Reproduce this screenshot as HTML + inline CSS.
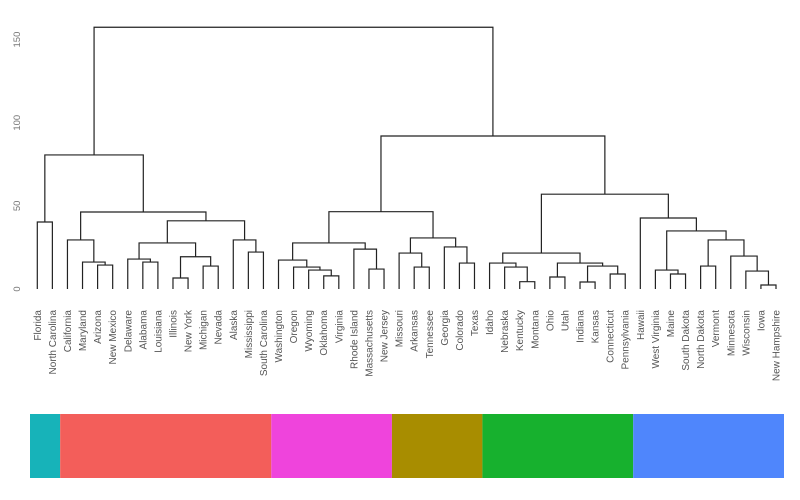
<!DOCTYPE html>
<html><head><meta charset="utf-8"><style>
html,body{margin:0;padding:0;background:#fff;}
svg{display:block;font-family:"Liberation Sans",sans-serif;}
</style></head><body>
<svg id="chart" width="800" height="500" viewBox="0 0 800 500" xmlns="http://www.w3.org/2000/svg">
<g id="axis"></g>
<g id="tree"></g>
<g id="labels"></g>
<g id="bar"></g>
</svg>
<script>
const leaves = ["Florida","North Carolina","California","Maryland","Arizona","New Mexico","Delaware","Alabama","Louisiana","Illinois","New York","Michigan","Nevada","Alaska","Mississippi","South Carolina","Washington","Oregon","Wyoming","Oklahoma","Virginia","Rhode Island","Massachusetts","New Jersey","Missouri","Arkansas","Tennessee","Georgia","Colorado","Texas","Idaho","Nebraska","Kentucky","Montana","Ohio","Utah","Indiana","Kansas","Connecticut","Pennsylvania","Hawaii","West Virginia","Maine","South Dakota","North Dakota","Vermont","Minnesota","Wisconsin","Iowa","New Hampshire"];
// merges: negative = leaf index (1-based), positive = earlier merge (1-based)
const mergeLeft  = [-5,-4,-3,-8,-7,-10,-12,6,5,-15,-14,9,3,-1,14,-20,-19,-18,-17,-23,-22,19,-26,-25,-29,-28,24,22,-33,-32,-31,-35,-37,-39,33,32,31,-43,-42,-45,-49,-48,-47,40,39,-41,37,28,15];
const mergeRight = [-6,1,2,-9,4,-11,-13,7,8,-16,10,11,12,-2,13,-21,16,17,18,-24,20,21,-27,23,-30,25,26,27,-34,29,30,-36,-38,-40,34,35,36,-44,38,-46,-50,41,42,43,44,45,46,47,48];
const mergeHeights = [14.4,16.2,29.5,16.2,18,6.6,13.8,19.4,27.7,22.2,29.5,41,46.3,40.3,80.6,7.9,11.4,13.2,17.4,12,24,27.7,13.2,21.6,15.6,25.3,30.7,46.5,4.4,13.2,15.6,7.2,4.2,9,13.8,15.6,21.6,9,11.4,13.8,2.4,10.8,19.8,29.5,34.9,42.7,57,92,157.4];
const yTicks = [0,50,100,150];
const clusterSizes = [2,14,8,6,10,10];
const clusterColors = ["#17b3b9","#f35e5a","#ef44dc","#a88d00","#17b12e","#4f86fc"];

const NS="http://www.w3.org/2000/svg";
const x0=37.3, dx=(776-37.3)/(leaves.length-1);
const y0=289, ky=1.663;
const xL=i=>x0+i*dx;
const yS=h=>y0-h*ky;
function mk(tag,attrs,parent){const e=document.createElementNS(NS,tag);for(const k in attrs)e.setAttribute(k,attrs[k]);parent.appendChild(e);return e;}

const axis=document.getElementById('axis');
yTicks.forEach(t=>{
  const y=yS(t);
  const tx=mk('text',{x:20,y:y,'text-anchor':'middle','font-size':'9.5',fill:'#777',transform:`rotate(-90,20,${y})`},axis);
  
  
  tx.textContent=t;
});

const tree=document.getElementById('tree');
const mx=[],mh=[];
function childPos(c){ if(c<0) return [xL(-c-1),0]; return [mx[c-1],mh[c-1]]; }
for(let i=0;i<mergeHeights.length;i++){
  const [xa,ha]=childPos(mergeLeft[i]);
  const [xb,hb]=childPos(mergeRight[i]);
  const h=mergeHeights[i];
  mx.push((xa+xb)/2); mh.push(h);
  const p=mk('path',{d:`M${xa},${yS(ha)}V${yS(h)}H${xb}V${yS(hb)}`,fill:'none',stroke:'#222','stroke-width':'1.2'},tree);
  
  
}

const lab=document.getElementById('labels');
leaves.forEach((n,i)=>{
  const x=xL(i)+3.5, y=310;
  const t=mk('text',{x:x,y:y,'text-anchor':'end','font-size':'10',fill:'#555',transform:`rotate(-90,${x},${y})`},lab);
  
  
  t.textContent=n;
});

const bar=document.getElementById('bar');
const bx0=30, bw=(784-30)/leaves.length;
let acc=0;
clusterSizes.forEach((s,i)=>{
  const r=mk('rect',{x:bx0+acc*bw,y:414,width:s*bw,height:64,fill:clusterColors[i]},bar);
  
  
  acc+=s;
});
</script>
</body></html>
